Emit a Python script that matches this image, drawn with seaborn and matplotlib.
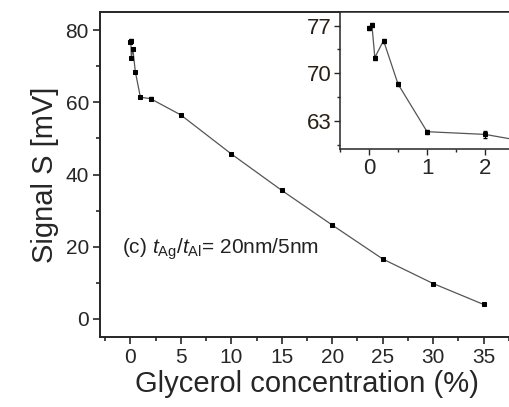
import seaborn as sns
import matplotlib.pyplot as plt
import pandas as pd
from matplotlib.ticker import MultipleLocator

# data
conc = [0, 0.05, 0.1, 0.25, 0.5, 1, 2, 5, 10, 15, 20, 25, 30, 35]
signal = [76.6, 77.1, 72.3, 74.8, 68.4, 61.4, 61.0, 56.5, 45.7, 35.6, 26.0, 16.6, 9.8, 4.0]
err = [0.3, 0.3, 0.3, 0.3, 0.3, 0.3, 0.5, 0.3, 0.2, 0.2, 0.2, 0.2, 0.2, 0.2]
inset_xticks = [0, 1, 2]
inset_yticks = [63, 70, 77]

df = pd.DataFrame({"conc": conc, "signal": signal, "err": err})

sns.set_style("ticks")
plt.rcParams['font.family'] = ['Liberation Sans', 'DejaVu Sans']
plt.rcParams['mathtext.fontset'] = 'custom'
plt.rcParams['mathtext.rm'] = 'Liberation Sans'
plt.rcParams['mathtext.it'] = 'Liberation Sans:italic'

fig = plt.figure(figsize=(5.09, 4.07), dpi=100)
ax = fig.add_axes([0.1965, 0.172, 1.0098 - 0.1965, 0.9705 - 0.172])


def draw(a, ms):
    sns.lineplot(data=df, x="conc", y="signal", ax=a, color="#555555", lw=0.9,
                 marker="s", markersize=ms, markerfacecolor="black",
                 markeredgecolor="black", zorder=2)
    a.errorbar(df["conc"], df["signal"], yerr=df["err"], fmt="none",
               ecolor="black", elinewidth=0.8, capsize=1.5, zorder=3)


draw(ax, 3.5)
ax.set_xlim(-3, 38)
ax.set_ylim(-5, 85)
ax.xaxis.set_major_locator(MultipleLocator(5))
ax.xaxis.set_minor_locator(MultipleLocator(2.5))
ax.yaxis.set_major_locator(MultipleLocator(20))
ax.yaxis.set_minor_locator(MultipleLocator(10))
ax.tick_params(which="major", direction="out", length=5, width=1.2, labelsize=15, pad=3)
ax.tick_params(which="minor", direction="out", length=3, width=1.2)
for s in ax.spines.values():
    s.set_linewidth(1.4)
ax.set_xlabel("Glycerol concentration (%)", fontsize=21, labelpad=2)
ax.set_ylabel("Signal S [mV]", fontsize=21, labelpad=5)
ax.text(-0.8, 18.2, r"(c) $\it{t}_{\rm Ag}$/$\it{t}_{\rm Al}$= 20nm/5nm",
        fontsize=15, va="baseline", ha="left", color="#222222")

# inset
ins = fig.add_axes([0.668, 0.633, 1.067 - 0.668, 0.9705 - 0.633])
draw(ins, 3)
ins.set_xlim(-0.5, 3)
ins.set_ylim(58.8, 79)
ins.set_xticks(inset_xticks)
ins.xaxis.set_minor_locator(MultipleLocator(0.5))
ins.yaxis.set_minor_locator(MultipleLocator(3.5))
ins.set_yticks(inset_yticks)
ins.tick_params(which="major", direction="out", length=4, width=1.0, labelsize=16, pad=2)
ins.tick_params(which="minor", direction="out", length=2.5, width=1.0)
ins.tick_params(axis="y", labelcolor="#2a2016")
for s in ins.spines.values():
    s.set_linewidth(1.1)
ins.set_xlabel("")
ins.set_ylabel("")

fig.savefig("out.png", dpi=100)
